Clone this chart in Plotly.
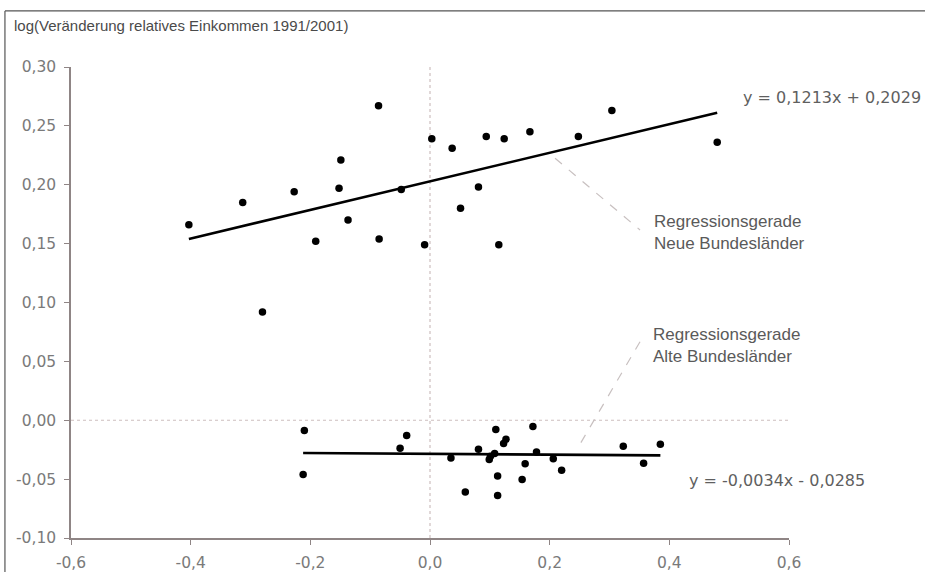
import plotly.graph_objects as go

# ---------------- data ----------------
neue_x = [-0.403, -0.313, -0.280, -0.227, -0.191, -0.149, -0.152, -0.137, -0.086, -0.085,
          -0.048, -0.009, 0.003, 0.037, 0.051, 0.081, 0.094, 0.115, 0.124, 0.167,
          0.248, 0.304, 0.480]
neue_y = [0.166, 0.185, 0.092, 0.194, 0.152, 0.221, 0.197, 0.170, 0.267, 0.154,
          0.196, 0.149, 0.239, 0.231, 0.180, 0.198, 0.241, 0.149, 0.239, 0.245,
          0.241, 0.263, 0.236]

alte_x = [-0.210, -0.212, -0.050, -0.039, 0.035, 0.059, 0.081, 0.099, 0.101, 0.108,
          0.110, 0.113, 0.113, 0.123, 0.127, 0.154, 0.159, 0.172, 0.178, 0.206,
          0.220, 0.323, 0.357, 0.385]
alte_y = [-0.0088, -0.046, -0.0238, -0.013, -0.032, -0.061, -0.0246, -0.0334, -0.0306, -0.0283,
          -0.0079, -0.0473, -0.064, -0.0198, -0.0161, -0.0504, -0.037, -0.0054, -0.0269, -0.0326,
          -0.0425, -0.0221, -0.0365, -0.0204]

neue_slope, neue_icpt = 0.1213, 0.2029
alte_slope, alte_icpt = -0.0034, -0.0285

x_tickvals = [-0.6, -0.4, -0.2, 0.0, 0.2, 0.4, 0.6]
x_ticktext = ["-0,6", "-0,4", "-0,2", "0,0", "0,2", "0,4", "0,6"]
y_tickvals = [-0.10, -0.05, 0.00, 0.05, 0.10, 0.15, 0.20, 0.25, 0.30]
y_ticktext = ["-0,10", "-0,05", "0,00", "0,05", "0,10", "0,15", "0,20", "0,25", "0,30"]

title_text = "log(Veränderung relatives Einkommen 1991/2001)"
eq_neue = "y = 0,1213x + 0,2029"
eq_alte = "y = -0,0034x - 0,0285"
lab_neue = "Regressionsgerade<br>Neue Bundesländer"
lab_alte = "Regressionsgerade<br>Alte Bundesländer"

# ---------------- figure ----------------
AXIS_COL = "#8f8585"
ZERO_COL = "#cdbfbf"
TICK_FONT = dict(family="DejaVu Sans, Verdana, sans-serif", size=15.5, color="#7a7a7a")
EQ_FONT = dict(family="DejaVu Sans, Verdana, sans-serif", size=16, color="#5f5f5f")
LAB_FONT = dict(family="Liberation Sans, Arial, sans-serif", size=17, color="#5a5a5a")

fig = go.Figure()

def reg_line(xs, slope, icpt):
    x0, x1 = min(xs), max(xs)
    return [x0, x1], [slope * x0 + icpt, slope * x1 + icpt]

lx, ly = reg_line(neue_x, neue_slope, neue_icpt)
fig.add_trace(go.Scatter(x=lx, y=ly, mode="lines", line=dict(color="black", width=2.6),
                         showlegend=False, hoverinfo="skip"))
lx, ly = reg_line(alte_x, alte_slope, alte_icpt)
fig.add_trace(go.Scatter(x=lx, y=ly, mode="lines", line=dict(color="black", width=2.6),
                         showlegend=False, hoverinfo="skip"))

fig.add_trace(go.Scatter(x=neue_x, y=neue_y, mode="markers", name="Neue Bundesländer",
                         marker=dict(color="black", size=7.5), showlegend=False))
fig.add_trace(go.Scatter(x=alte_x, y=alte_y, mode="markers", name="Alte Bundesländer",
                         marker=dict(color="black", size=7.5), showlegend=False))

shapes = [
    # dotted zero lines
    dict(type="line", xref="x", yref="y", x0=-0.6, x1=0.6, y0=0, y1=0,
         line=dict(color=ZERO_COL, width=1.2, dash="dot"), layer="below"),
    dict(type="line", xref="x", yref="y", x0=0, x1=0, y0=-0.1, y1=0.3,
         line=dict(color=ZERO_COL, width=1.2, dash="dot"), layer="below"),
    # leader lines
    dict(type="line", xref="x", yref="y", x0=0.209, y0=0.2225, x1=0.351, y1=0.1616,
         line=dict(color="#c8c0c0", width=1.2, dash="dash")),
    dict(type="line", xref="x", yref="y", x0=0.351, y0=0.0667, x1=0.245, y1=-0.0253,
         line=dict(color="#c8c0c0", width=1.2, dash="dash")),
    # outer frame (top and left edges only, as in the cropped original)
    dict(type="line", xref="paper", yref="paper", x0=-0.092, x1=1.3, y0=1.119, y1=1.119,
         line=dict(color="#555555", width=1.2)),
    dict(type="line", xref="paper", yref="paper", x0=-0.092, x1=-0.092, y0=-0.2, y1=1.119,
         line=dict(color="#555555", width=1.2)),
]

annotations = [
    dict(text=title_text, xref="paper", yref="paper", x=-0.0822, y=1.089,
         xanchor="left", yanchor="middle", showarrow=False,
         font=dict(family="Liberation Sans, Arial, sans-serif", size=15, color="#4a4a4a")),
    dict(text=eq_neue, xref="x", yref="y", x=0.520, y=0.2737, xanchor="left",
         yanchor="middle", showarrow=False, font=EQ_FONT),
    dict(text=eq_alte, xref="x", yref="y", x=0.4296, y=-0.0508, xanchor="left",
         yanchor="middle", showarrow=False, font=EQ_FONT),
    dict(text=lab_neue, xref="x", yref="y", x=0.371, y=0.1594, xanchor="left",
         yanchor="middle", align="left", showarrow=False, font=LAB_FONT),
    dict(text=lab_alte, xref="x", yref="y", x=0.369, y=0.0632, xanchor="left",
         yanchor="middle", align="left", showarrow=False, font=LAB_FONT),
]

fig.update_layout(
    width=925, height=572,
    margin=dict(l=71, r=136, t=67, b=34, pad=0),
    paper_bgcolor="white", plot_bgcolor="white",
    separators=",.",
    shapes=shapes, annotations=annotations,
    showlegend=False,
)
fig.update_xaxes(range=[-0.6, 0.6], tickvals=x_tickvals, ticktext=x_ticktext,
                 showgrid=False, zeroline=False, showline=True, linecolor=AXIS_COL,
                 linewidth=1.5, ticks="outside", ticklen=5, tickcolor=AXIS_COL,
                 tickfont=TICK_FONT, ticklabelstandoff=5, automargin=False)
fig.update_yaxes(range=[-0.1, 0.3], tickvals=y_tickvals, ticktext=y_ticktext,
                 showgrid=False, zeroline=False, showline=True, linecolor=AXIS_COL,
                 linewidth=1.5, ticks="outside", ticklen=5, tickcolor=AXIS_COL,
                 tickfont=TICK_FONT, ticklabelstandoff=5, automargin=False)

fig.write_html("out.html", config={"displayModeBar": False},
               post_script="document.body.style.margin='0';document.body.style.overflow='hidden';")
